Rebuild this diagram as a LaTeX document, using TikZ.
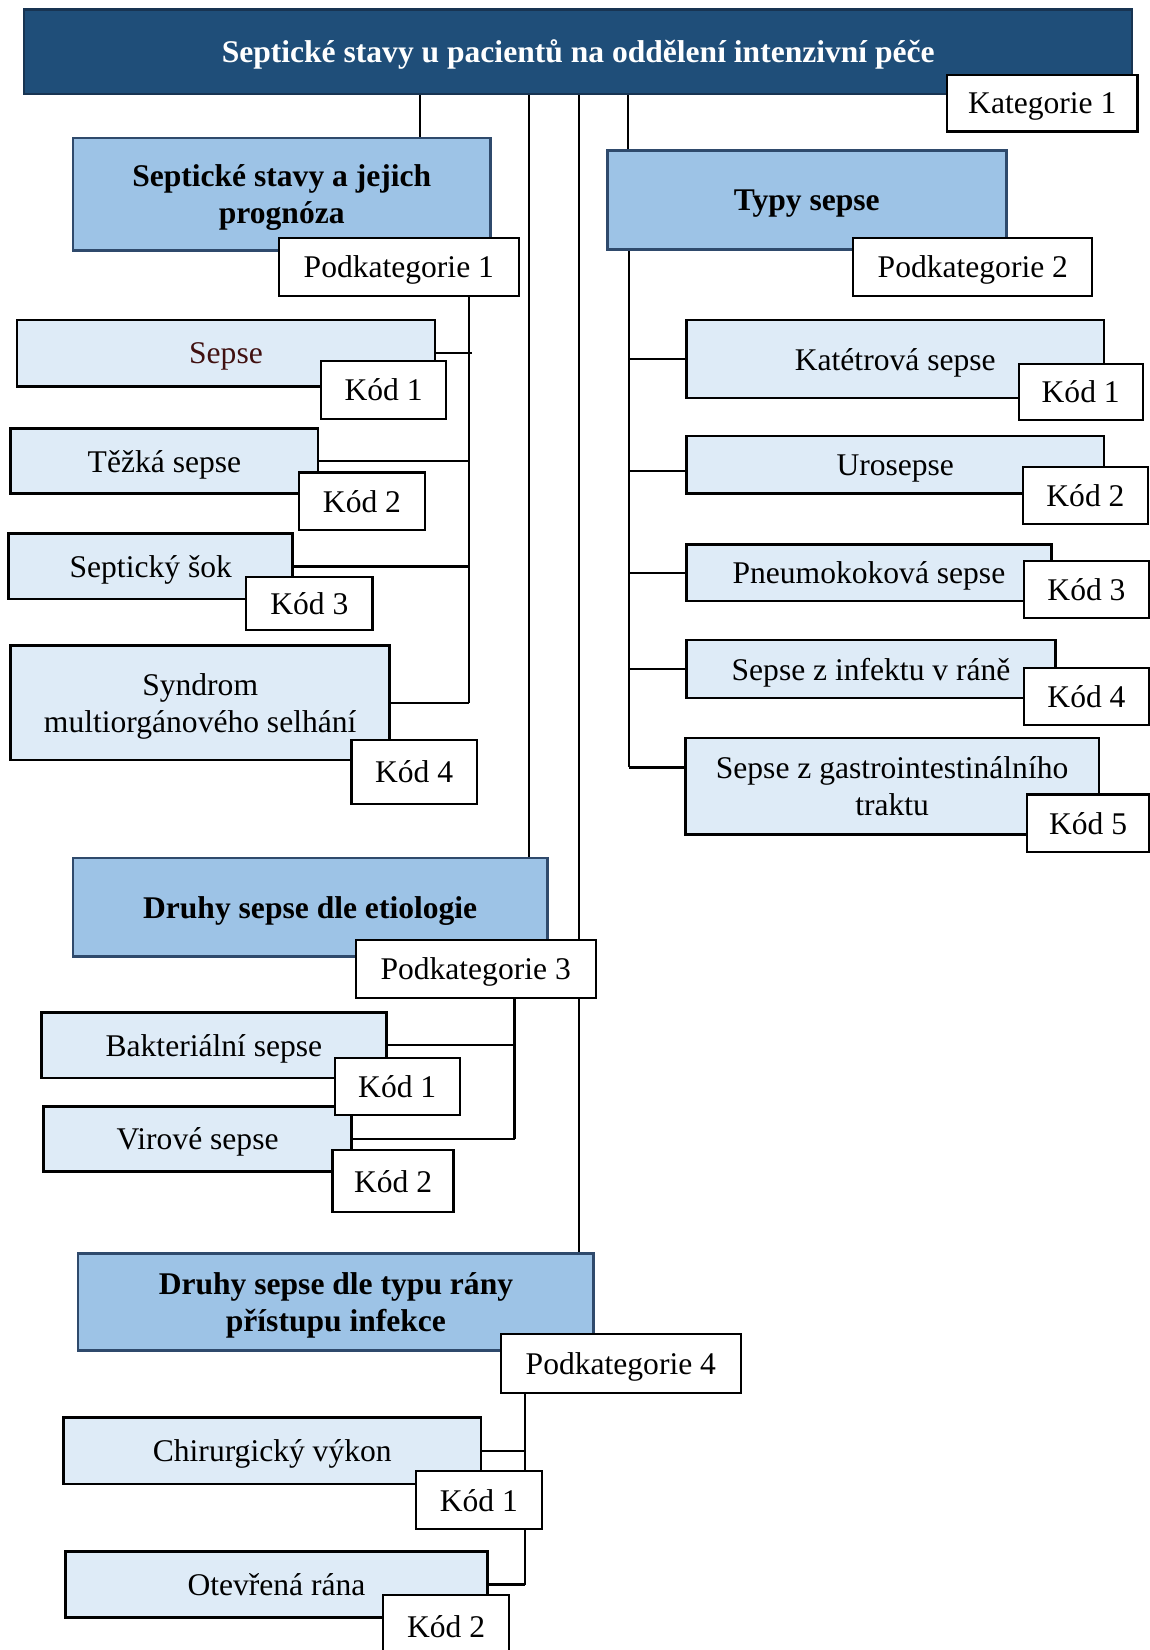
\documentclass[tikz,border=0pt]{standalone}
\usepackage{fontspec}
\setmainfont{Liberation Serif}
\usetikzlibrary{backgrounds,calc,positioning}

\definecolor{titleblue}{RGB}{31,78,121}
\definecolor{titleedge}{RGB}{24,52,82}
\definecolor{subblue}{RGB}{157,195,230}
\definecolor{subedge}{RGB}{47,74,108}
\definecolor{itemblue}{RGB}{222,235,247}
\definecolor{sepsered}{RGB}{64,16,16}

\tikzset{
  every node/.style={inner sep=2pt, text depth=0pt, font=\fontsize{30}{35}\selectfont},
  titlebox/.style={draw=titleedge, fill=titleblue, line width=2pt, text=white, font=\fontsize{30}{35}\selectfont\bfseries},
  subbox/.style={draw=subedge, fill=subblue, line width=2.5pt, align=center, font=\fontsize{30}{35}\selectfont\bfseries},
  itembox/.style={draw=black, fill=itemblue, line width=2.5pt, align=center},
  tagbox/.style={draw=black, fill=white, line width=2pt},
  link/.style={draw=black, line width=2.2pt},
}

\begin{document}
\begin{tikzpicture}[x=1pt, y=-1pt, every node/.append style={anchor=north west}]
    \useasboundingbox (0,0) rectangle (1092,1568);

    % kategorie
    \node[titlebox, minimum width=1053pt, minimum height=80pt] (title) at (22,8) {Septické stavy u pacientů na oddělení intenzivní péče};
    \node[tagbox, minimum width=181pt, minimum height=54pt] (kat) at (899,70) {Kategorie 1};

    % podkategorie 1
    \node[subbox, minimum width=397pt, minimum height=107pt] (stav) at (68,130) {Septické stavy a jejich\\prognóza};
    \node[tagbox, minimum width=228pt, minimum height=55pt] (pk1) at (264,225) {Podkategorie 1};
    \node[itembox, minimum width=397pt, minimum height=63pt, text=sepsered] (sepse) at (15,303) {Sepse};
    \node[tagbox, minimum width=119pt, minimum height=55pt] (k11) at (304,342) {Kód 1};
    \node[itembox, minimum width=292pt, minimum height=62pt] (tezka) at (9,406) {Těžká sepse};
    \node[tagbox, minimum width=120pt, minimum height=55pt] (k12) at (283,448) {Kód 2};
    \node[itembox, minimum width=270pt, minimum height=62pt] (sok) at (7,506) {Septický šok};
    \node[tagbox, minimum width=120pt, minimum height=51pt] (k13) at (233,547) {Kód 3};
    \node[itembox, minimum width=360pt, minimum height=109pt] (syn) at (9,612) {Syndrom\\multiorgánového selhání};
    \node[tagbox, minimum width=119pt, minimum height=61pt] (k14) at (333,702) {Kód 4};

    % podkategorie 2
    \node[subbox, minimum width=379pt, minimum height=94pt] (typy) at (576,142) {Typy sepse};
    \node[tagbox, minimum width=227pt, minimum height=55pt] (pk2) at (810,225) {Podkategorie 2};
    \node[itembox, minimum width=397pt, minimum height=74pt] (kater) at (651,303) {Katétrová sepse};
    \node[tagbox, minimum width=118pt, minimum height=53pt] (k21) at (967,345) {Kód 1};
    \node[itembox, minimum width=397pt, minimum height=55pt] (uro) at (651,413) {Urosepse};
    \node[tagbox, minimum width=119pt, minimum height=54pt] (k22) at (971,443) {Kód 2};
    \node[itembox, minimum width=347pt, minimum height=54pt] (pneu) at (651,516) {Pneumokoková sepse};
    \node[tagbox, minimum width=119pt, minimum height=54pt] (k23) at (972,532) {Kód 3};
    \node[itembox, minimum width=351pt, minimum height=55pt] (infekt) at (651,607) {Sepse z infektu v ráně};
    \node[tagbox, minimum width=119pt, minimum height=54pt] (k24) at (972,634) {Kód 4};
    \node[itembox, minimum width=393pt, minimum height=92pt] (gastro) at (650,700) {Sepse z gastrointestinálního\\traktu};
    \node[tagbox, minimum width=116pt, minimum height=55pt] (k25) at (975,754) {Kód 5};

    % podkategorie 3
    \node[subbox, minimum width=451pt, minimum height=94pt] (etio) at (68,814) {Druhy sepse dle etiologie};
    \node[tagbox, minimum width=228pt, minimum height=55pt] (pk3) at (337,892) {Podkategorie 3};
    \node[itembox, minimum width=328pt, minimum height=62pt] (bakt) at (38,961) {Bakteriální sepse};
    \node[itembox, minimum width=293pt, minimum height=62pt] (vir) at (40,1050) {Virové sepse};
    \node[tagbox, minimum width=119pt, minimum height=55pt] (k31) at (317,1004) {Kód 1};
    \node[tagbox, minimum width=115pt, minimum height=59pt] (k32) at (315,1092) {Kód 2};

    % podkategorie 4
    \node[subbox, minimum width=490pt, minimum height=92pt] (typrany) at (73,1190) {Druhy sepse dle typu rány\\přístupu infekce};
    \node[tagbox, minimum width=228pt, minimum height=56pt] (pk4) at (475,1267) {Podkategorie 4};
    \node[itembox, minimum width=397pt, minimum height=63pt] (chir) at (59,1346) {Chirurgický výkon};
    \node[tagbox, minimum width=120pt, minimum height=55pt] (k41) at (394,1397) {Kód 1};
    \node[itembox, minimum width=401pt, minimum height=63pt] (otev) at (61,1473) {Otevřená rána};
    \node[tagbox, minimum width=120pt, minimum height=60pt] (k42) at (363,1515) {Kód 2};

    % spojnice
    \coordinate (j1) at (399,0);
    \coordinate (j2) at (503,0);
    \coordinate (j3) at (550,0);
    \coordinate (j4) at (597,0);
    \coordinate (v1) at (446,0);
    \coordinate (v2) at (598,0);
    \coordinate (v3) at (489,0);
    \coordinate (v4) at (499,0);
    \begin{scope}[on background layer]
      \draw[link] (title.south -| j1) -- (stav.north -| j1);
      \draw[link] (title.south -| j2) -- (etio.north -| j2);
      \draw[link] (title.south -| j3) -- (typrany.north -| j3);
      \draw[link] (title.south -| j4) -- (typy.north -| j4);

      \draw[link] (pk1.south -| v1) -- (syn.east -| v1);
      \draw[link] (sepse.east) -- ([xshift=3pt]sepse.east -| v1);
      \draw[link] (tezka.east) -- (tezka.east -| v1);
      \draw[link] (sok.east) -- (sok.east -| v1);
      \draw[link] (syn.east) -- (syn.east -| v1);

      \draw[link] (typy.south -| v2) -- ([yshift=18pt]gastro.west -| v2);
      \draw[link] (kater.west) -- (kater.west -| v2);
      \draw[link] ([yshift=-6pt]uro.west) -- ([yshift=-6pt]uro.west -| v2);
      \draw[link] (pneu.west) -- (pneu.west -| v2);
      \draw[link] (infekt.west) -- (infekt.west -| v2);
      \draw[link] ([yshift=18pt]gastro.west) -- ([yshift=18pt]gastro.west -| v2);

      \draw[link] (pk3.south -| v3) -- (vir.east -| v3);
      \draw[link] (bakt.east) -- (bakt.east -| v3);
      \draw[link] (vir.east) -- (vir.east -| v3);

      \draw[link] (pk4.south -| v4) -- (otev.east -| v4);
      \draw[link] (chir.east) -- (chir.east -| v4);
      \draw[link] (otev.east) -- (otev.east -| v4);
    \end{scope}
\end{tikzpicture}
\end{document}
